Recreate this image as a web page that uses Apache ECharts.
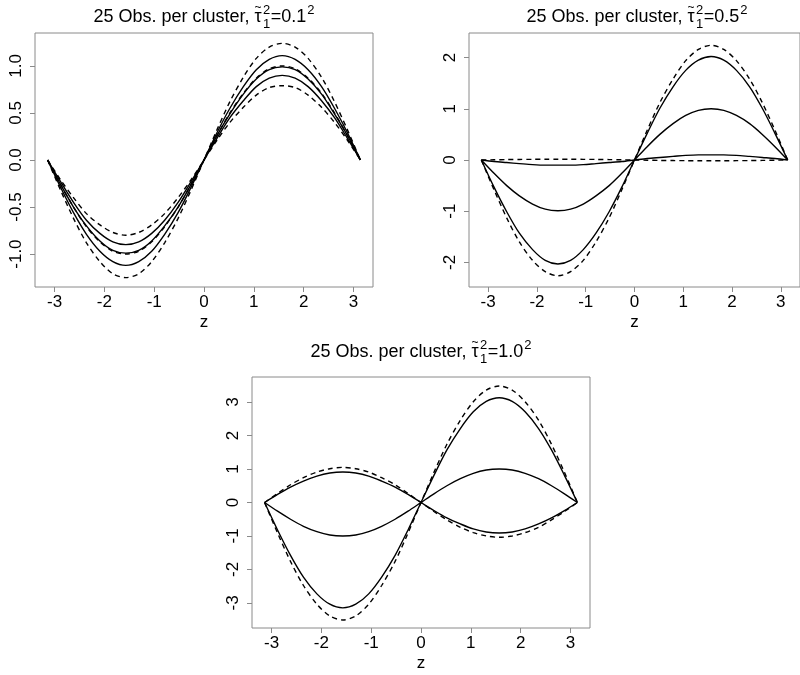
<!DOCTYPE html>
<html>
<head>
<meta charset="utf-8">
<script src="https://cdn.jsdelivr.net/npm/echarts@6/dist/echarts.min.js"></script>
<style>html,body{margin:0;padding:0;background:#fff;}#c{width:800px;height:675px;}</style>
</head>
<body>
<div id="c"></div>
<script>
// ---- data ----
const zValues = [-3.14, -2.88, -2.62, -2.36, -2.09, -1.83, -1.57, -1.31, -1.05, -0.79, -0.52, -0.26, 0,
                 0.26, 0.52, 0.79, 1.05, 1.31, 1.57, 1.83, 2.09, 2.36, 2.62, 2.88, 3.14];
const xTicks = [-3, -2, -1, 0, 1, 2, 3];
const yTicks1 = [-1, -0.5, 0, 0.5, 1];
const yTicks2 = [-2, -1, 0, 1, 2];
const yTicks3 = [-3, -2, -1, 0, 1, 2, 3];
const tauLabels = ['0.1', '0.5', '1.0'];

// panel 1 (tau = 0.1)
const p1Solid1 = [0, -0.29, -0.56, -0.79, -0.97, -1.08, -1.12, -1.08, -0.97, -0.79, -0.56, -0.29, 0, 0.29, 0.55, 0.78, 0.96, 1.07, 1.11, 1.07, 0.96, 0.78, 0.55, 0.29, 0];
const p1Solid2 = [0, -0.26, -0.50, -0.70, -0.86, -0.96, -0.99, -0.96, -0.86, -0.70, -0.50, -0.26, 0, 0.26, 0.49, 0.70, 0.86, 0.96, 0.99, 0.96, 0.86, 0.70, 0.49, 0.26, 0];
const p1Solid3 = [0, -0.23, -0.45, -0.64, -0.78, -0.87, -0.90, -0.87, -0.78, -0.64, -0.45, -0.23, 0, 0.23, 0.45, 0.63, 0.78, 0.87, 0.90, 0.87, 0.78, 0.63, 0.45, 0.23, 0];
const p1Dash1  = [0, -0.32, -0.62, -0.88, -1.08, -1.21, -1.25, -1.21, -1.08, -0.88, -0.62, -0.32, 0, 0.32, 0.62, 0.88, 1.08, 1.20, 1.24, 1.20, 1.08, 0.88, 0.62, 0.32, 0];
const p1Dash2  = [0, -0.26, -0.50, -0.71, -0.87, -0.97, -1.00, -0.97, -0.87, -0.71, -0.50, -0.26, 0, 0.26, 0.50, 0.71, 0.87, 0.97, 1.00, 0.97, 0.87, 0.71, 0.50, 0.26, 0];
const p1Dash3  = [0, -0.21, -0.40, -0.57, -0.69, -0.77, -0.80, -0.77, -0.69, -0.57, -0.40, -0.21, 0, 0.21, 0.40, 0.56, 0.69, 0.77, 0.79, 0.77, 0.69, 0.56, 0.40, 0.21, 0];

// panel 2 (tau = 0.5)
const p2Solid1 = [0, -0.53, -1.01, -1.43, -1.75, -1.96, -2.03, -1.96, -1.75, -1.43, -1.01, -0.53, 0, 0.52, 1.01, 1.43, 1.75, 1.95, 2.02, 1.95, 1.75, 1.43, 1.01, 0.52, 0];
const p2Solid2 = [0, -0.26, -0.50, -0.70, -0.86, -0.96, -0.99, -0.96, -0.86, -0.70, -0.50, -0.26, 0, 0.26, 0.50, 0.71, 0.87, 0.97, 1.00, 0.97, 0.87, 0.71, 0.50, 0.26, 0];
const p2Solid3 = [0, -0.03, -0.05, -0.07, -0.09, -0.10, -0.10, -0.10, -0.09, -0.07, -0.05, -0.03, 0, 0.03, 0.05, 0.07, 0.09, 0.10, 0.10, 0.10, 0.09, 0.07, 0.05, 0.03, 0];
const p2Dash1  = [0, -0.58, -1.13, -1.60, -1.96, -2.18, -2.26, -2.18, -1.96, -1.60, -1.13, -0.58, 0, 0.58, 1.12, 1.58, 1.94, 2.16, 2.24, 2.16, 1.94, 1.58, 1.12, 0.58, 0];
const p2Dash2  = [0, 0.004, 0.008, 0.011, 0.013, 0.014, 0.015, 0.014, 0.013, 0.011, 0.008, 0.004, 0, -0.004, -0.008, -0.011, -0.013, -0.014, -0.015, -0.014, -0.013, -0.011, -0.008, -0.004, 0];

// panel 3 (tau = 1.0)
const p3Solid1 = [0, -0.82, -1.58, -2.23, -2.73, -3.04, -3.15, -3.04, -2.73, -2.23, -1.58, -0.82, 0, 0.81, 1.57, 2.21, 2.71, 3.02, 3.13, 3.02, 2.71, 2.21, 1.57, 0.81, 0];
const p3Solid2 = [0, -0.26, -0.50, -0.71, -0.87, -0.97, -1.00, -0.97, -0.87, -0.71, -0.50, -0.26, 0, 0.26, 0.50, 0.71, 0.87, 0.97, 1.00, 0.97, 0.87, 0.71, 0.50, 0.26, 0];
const p3Solid3 = [0, 0.24, 0.46, 0.64, 0.79, 0.88, 0.91, 0.88, 0.79, 0.64, 0.46, 0.24, 0, -0.24, -0.46, -0.64, -0.79, -0.88, -0.91, -0.88, -0.79, -0.64, -0.46, -0.24, 0];
const p3Dash1  = [0, -0.91, -1.76, -2.48, -3.04, -3.39, -3.51, -3.39, -3.04, -2.48, -1.76, -0.91, 0, 0.90, 1.74, 2.46, 3.01, 3.36, 3.48, 3.36, 3.01, 2.46, 1.74, 0.90, 0];
const p3Dash2  = [0, 0.27, 0.53, 0.74, 0.91, 1.01, 1.05, 1.01, 0.91, 0.74, 0.53, 0.27, 0, -0.27, -0.52, -0.74, -0.90, -1.00, -1.04, -1.00, -0.90, -0.74, -0.52, -0.27, 0];

// ---- rendering ----
const FONT = '"Liberation Sans", Arial, Helvetica, sans-serif';
const GREY = '#8a8a8a';
const chart = echarts.init(document.getElementById('c'), null, {renderer: 'canvas'});

const grids = [
  {left: 35, top: 33, width: 338, height: 254},
  {left: 469, top: 33, width: 340, height: 254},
  {left: 252, top: 377, width: 338, height: 251}
];
const yRanges = [1.35, 2.48, 3.75];
const yTickSets = [yTicks1, yTicks2, yTicks3];
const X_EXT = 3.393;

function xAxisFor(i) {
  return {
    gridIndex: i, type: 'value', min: -X_EXT, max: X_EXT,
    name: 'z', nameLocation: 'middle', nameGap: 27,
    nameTextStyle: {fontFamily: FONT, fontSize: 17, color: '#000'},
    axisLine: {show: false, onZero: false},
    splitLine: {show: false},
    axisTick: {show: true, length: 5, lineStyle: {color: GREY}, customValues: xTicks},
    axisLabel: {customValues: xTicks, fontFamily: FONT, fontSize: 17, color: '#000', margin: 7,
      formatter: v => String(v)}
  };
}
function yAxisFor(i) {
  return {
    gridIndex: i, type: 'value', min: -yRanges[i], max: yRanges[i],
    axisLine: {show: false, onZero: false},
    splitLine: {show: false},
    axisTick: {show: true, length: 5, lineStyle: {color: GREY}, customValues: yTickSets[i]},
    axisLabel: {customValues: yTickSets[i], rotate: 90, fontFamily: FONT, fontSize: 17, color: '#000', margin: 10,
      formatter: v => i === 0 ? v.toFixed(1) : String(v)}
  };
}

function mk(i, arr, dashed) {
  return {
    type: 'line', xAxisIndex: i, yAxisIndex: i,
    data: zValues.map((z, k) => [z, arr[k]]),
    showSymbol: false, symbol: 'none', smooth: 0.3, animation: false,
    lineStyle: {color: '#000', width: 1.4, type: dashed ? [5, 4] : 'solid'},
    silent: true
  };
}

const series = [
  mk(0, p1Solid1), mk(0, p1Solid2), mk(0, p1Solid3),
  mk(0, p1Dash1, true), mk(0, p1Dash2, true), mk(0, p1Dash3, true),
  mk(1, p2Solid1), mk(1, p2Solid2), mk(1, p2Solid3),
  mk(1, p2Dash1, true), mk(1, p2Dash2, true),
  mk(2, p3Solid1), mk(2, p3Solid2), mk(2, p3Solid3),
  mk(2, p3Dash1, true), mk(2, p3Dash2, true)
];

// Title with tau-tilde sub/superscripts
const TS = 18, SS = 13;
const mctx = document.createElement('canvas').getContext('2d');
function measure(t, size) { mctx.font = size + 'px ' + FONT; return mctx.measureText(t).width; }
function txt(t, x, y, size, align) {
  return {type: 'text', x: x, y: y, silent: true,
    style: {text: t, fontFamily: FONT, fontSize: size, fill: '#000', align: align || 'left', verticalAlign: 'middle'}};
}
function titleEls(cx, cy, val) {
  const pre = '25 Obs. per cluster, ';
  const wPre = measure(pre, TS);
  const wTau = measure('\u03C4', TS);
  const w1 = wPre + wTau;
  const ws = measure('2', SS);
  const eq = '=' + val;
  const w2 = measure(eq, TS);
  const total = w1 + ws + w2 + ws + 3;
  const x0 = cx - total / 2;
  return [
    txt(pre + '\u03C4', x0, cy, TS),
    txt('~', x0 + wPre + wTau / 2, cy - 9, 12, 'center'),
    txt('2', x0 + w1 + 1.5, cy - 7, SS),
    txt('1', x0 + w1 + 1.5, cy + 7, SS),
    txt(eq, x0 + w1 + ws + 2, cy, TS),
    txt('2', x0 + w1 + ws + w2 + 3, cy - 7, SS)
  ];
}
const graphic = [].concat(
  titleEls(grids[0].left + grids[0].width / 2, 17, tauLabels[0]),
  titleEls(637, 17, tauLabels[1]),
  titleEls(grids[2].left + grids[2].width / 2, 352, tauLabels[2])
);

chart.setOption({
  backgroundColor: '#fff',
  animation: false,
  grid: grids.map(g => Object.assign({show: true, borderColor: GREY, borderWidth: 1, backgroundColor: 'transparent', containLabel: false}, g)),
  xAxis: [0, 1, 2].map(xAxisFor),
  yAxis: [0, 1, 2].map(yAxisFor),
  series: series,
  graphic: graphic
});
</script>
</body>
</html>
